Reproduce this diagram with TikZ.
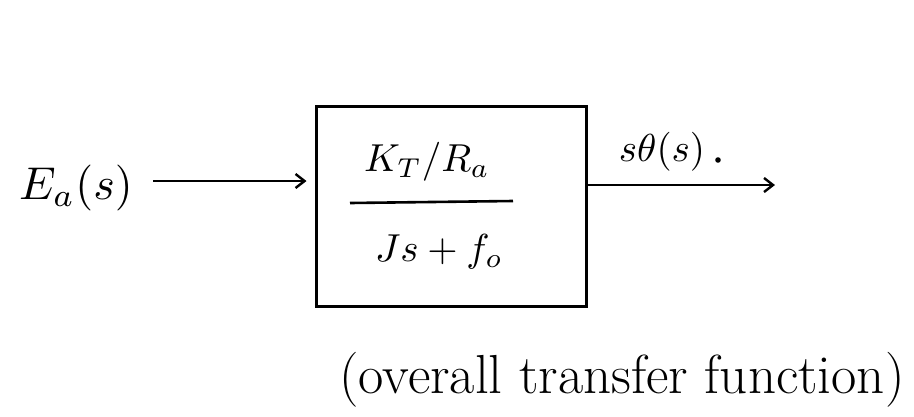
\documentclass[tikz,border=0pt]{standalone}
\usetikzlibrary{arrows.meta}
\tikzset{
  blockbox/.style={draw, line width=3pt, minimum width=270pt, minimum height=200pt, inner sep=0pt},
  sig/.style={line width=2.6pt, -{Straight Barb[length=9pt,width=14pt,line width=2.4pt]}},
  bigtxt/.style={scale=4.6, transform shape, inner sep=0pt},
  midtxt/.style={scale=3.9, transform shape, inner sep=0pt},
  captxt/.style={font=\fontsize{55}{58}\selectfont, inner sep=0pt}
}
\begin{document}
\begin{tikzpicture}[x=1pt,y=-1pt]
\useasboundingbox (0,0) rectangle (914,416);
\fill[white] (0,0) rectangle (914,416);
\node[blockbox] (box) at (451,206) {};
\node[midtxt] (num) at (427,162) {$K_T/R_a$};
\coordinate (fl) at (350,203);
\coordinate (fr) at (513,201);
\draw[line width=2.6pt] (fl) -- (fr);
\node[midtxt] (den) at (439,252) {$Js+f_o$};
\node[bigtxt] (ea) at (76,188) {$E_a(s)$};
\coordinate (inS) at (153,181);
\draw[sig, shorten >=8pt] (inS) -- (box.west |- inS);
\coordinate (outE) at (775,185);
\draw[sig] (box.east |- outE) -- (outE);
\node[midtxt] (out) at (662,152) {$s\theta(s)$};
\fill (718,160) circle (2.8pt);
\node[captxt] (cap) at (622,380) {(overall transfer function)};
\end{tikzpicture}
\end{document}
